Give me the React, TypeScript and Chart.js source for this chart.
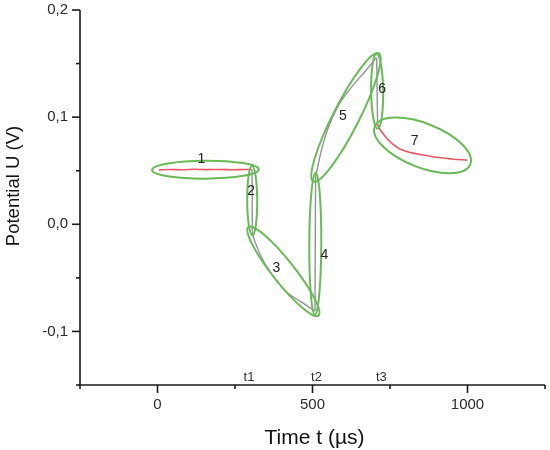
import React, { useEffect, useRef } from "react";
import { Chart, registerables } from "chart.js";

Chart.register(...registerables);

// ---- data (time in µs, potential in V) ----
const seg1Time = [5, 40, 80, 120, 160, 200, 240, 280, 304];
const seg1U = [0.0508, 0.0512, 0.0509, 0.0513, 0.051, 0.0512, 0.0509, 0.0511, 0.0512];
const seg2Time = [305, 306];
const seg2U = [0.0512, -0.007];
const seg3Time = [305, 313, 335, 377, 419, 465, 507];
const seg3U = [-0.007, -0.015, -0.0305, -0.05, -0.064, -0.0726, -0.081];
const seg4Time = [508, 510];
const seg4U = [-0.081, 0.0442];
const seg5Time = [510, 529, 548, 581, 626, 668, 700, 706];
const seg5U = [0.0442, 0.0694, 0.088, 0.1096, 0.128, 0.1422, 0.1534, 0.1555];
const seg6Time = [707, 710];
const seg6U = [0.1555, 0.093];
const seg7Time = [710, 718, 728, 740, 758, 780, 813, 850, 900, 950, 1000];
const seg7U = [0.093, 0.0885, 0.0845, 0.08, 0.075, 0.0705, 0.0672, 0.065, 0.0625, 0.061, 0.0598];

const segmentNames = ["1", "2", "3", "4", "5", "6", "7"];
const eventNames = ["t1", "t2", "t3"];
const eventTimes = [295, 513, 722];

const xMin = -250, xMax = 1250, xStep = 250;
const yMin = -0.15, yMax = 0.2, yStep = 0.05;
const xTitle = "Time t (µs)";
const yTitle = "Potential U (V)";

// ---- styles ----
const RED = "rgba(226,70,82,0.9)";
const GREY = "rgba(140,138,150,0.95)";
const GREEN = "rgb(104,186,84)";
const FONT = "'Liberation Sans', Arial, sans-serif";
const ellipsePad = [7, 3.5, 6, 4, 5, 4, 3];
const ellipseMinor = [9, 5, 11, 6, 13, 6, 22];
const ellipseShift = [[0, 0], [0, 0], [0, 0], [0, 0], [0, 0], [0, 0], [0, 3]];
const labelOffset = [[-4, -11], [-1, -9], [-7, -3], [9, 11], [-3, -1], [5, -2], [-8, -4]];

const segTimes = [seg1Time, seg2Time, seg3Time, seg4Time, seg5Time, seg6Time, seg7Time];
const segU = [seg1U, seg2U, seg3U, seg4U, seg5U, seg6U, seg7U];
const segColors = [RED, GREY, GREY, GREY, GREY, GREY, RED];

const overlayPlugin = {
  id: "overlay",
  afterDatasetsDraw(chart: any) {
    const ctx = chart.ctx;
    const xs = chart.scales.x;
    const ys = chart.scales.y;
    ctx.save();
    segTimes.forEach((ts, i) => {
      const us = segU[i];
      const x0 = xs.getPixelForValue(ts[0]);
      const y0 = ys.getPixelForValue(us[0]);
      const x1 = xs.getPixelForValue(ts[ts.length - 1]);
      const y1 = ys.getPixelForValue(us[us.length - 1]);
      const cx = (x0 + x1) / 2 + ellipseShift[i][0];
      const cy = (y0 + y1) / 2 + ellipseShift[i][1];
      const half = Math.hypot(x1 - x0, y1 - y0) / 2;
      const ang = Math.atan2(y1 - y0, x1 - x0);
      ctx.beginPath();
      ctx.ellipse(cx, cy, half + ellipsePad[i], ellipseMinor[i], ang, 0, Math.PI * 2);
      ctx.strokeStyle = GREEN;
      ctx.lineWidth = 2;
      ctx.stroke();
      ctx.fillStyle = "#222";
      ctx.font = `14px ${FONT}`;
      ctx.textAlign = "center";
      ctx.textBaseline = "middle";
      ctx.fillText(segmentNames[i], cx + labelOffset[i][0], cy + labelOffset[i][1]);
    });
    ctx.restore();
  },
  afterDraw(chart: any) {
    const ctx = chart.ctx;
    const xs = chart.scales.x;
    const ys = chart.scales.y;
    const area = chart.chartArea;
    ctx.save();
    ctx.strokeStyle = "#1a1a1a";
    ctx.lineWidth = 1.6;
    ctx.beginPath();
    ctx.moveTo(area.left, area.top);
    ctx.lineTo(area.left, area.bottom);
    ctx.lineTo(area.right, area.bottom);
    ctx.stroke();
    ys.ticks.forEach((t: any) => {
      const y = ys.getPixelForValue(t.value);
      const major = Math.abs(Math.round(t.value * 100)) % 10 === 0;
      ctx.beginPath();
      ctx.moveTo(area.left - (major ? 8 : 4), y);
      ctx.lineTo(area.left, y);
      ctx.stroke();
    });
    xs.ticks.forEach((t: any) => {
      const x = xs.getPixelForValue(t.value);
      const major = Math.round(t.value) % 500 === 0;
      ctx.beginPath();
      ctx.moveTo(x, area.bottom);
      ctx.lineTo(x, area.bottom + (major ? 8 : 4));
      ctx.stroke();
    });
    ctx.fillStyle = "#333";
    ctx.font = `13px ${FONT}`;
    ctx.textAlign = "center";
    ctx.textBaseline = "middle";
    eventTimes.forEach((t, i) => {
      ctx.fillText(eventNames[i], xs.getPixelForValue(t), area.bottom - 8);
    });
    ctx.fillStyle = "#111";
    ctx.font = `21px ${FONT}`;
    ctx.fillText(xTitle, (area.left + area.right) / 2 + 2, 438);
    ctx.save();
    ctx.translate(14, 186);
    ctx.rotate(-Math.PI / 2);
    ctx.font = `18.5px ${FONT}`;
    ctx.fillText(yTitle, 0, 0);
    ctx.restore();
    ctx.restore();
  },
};

export default function App() {
  const ref = useRef<HTMLCanvasElement>(null);
  useEffect(() => {
    if (!ref.current) return;
    const datasets = segTimes.map((ts, i) => ({
      label: "segment " + segmentNames[i],
      data: ts.map((t, k) => ({ x: t, y: segU[i][k] })),
      borderColor: segColors[i],
      borderWidth: segColors[i] === RED ? 1.6 : 1.4,
      pointRadius: 0,
      cubicInterpolationMode: "monotone" as const,
      fill: false,
    }));
    const chart = new Chart(ref.current, {
      type: "line",
      data: { datasets },
      plugins: [overlayPlugin],
      options: {
        animation: false,
        responsive: false,
        devicePixelRatio: 1,
        layout: { padding: { top: 10, right: 5, left: 0, bottom: 0 } },
        plugins: { legend: { display: false }, tooltip: { enabled: false } },
        scales: {
          x: {
            type: "linear",
            min: xMin,
            max: xMax,
            afterFit: (s: any) => {
              s.height = 65;
              s.paddingLeft = 0;
              s.paddingRight = 0;
            },
            grid: { display: false, drawTicks: false },
            border: { display: false },
            ticks: {
              stepSize: xStep,
              autoSkip: false,
              maxRotation: 0,
              padding: 11,
              color: "#2a2a2a",
              font: { family: FONT, size: 15 },
              callback: (v: any) => (Math.round(v) % 500 === 0 ? String(Math.round(v)) : ""),
            },
          },
          y: {
            type: "linear",
            min: yMin,
            max: yMax,
            afterFit: (s: any) => {
              s.width = 80;
              s.paddingTop = 0;
              s.paddingBottom = 0;
            },
            grid: { display: false, drawTicks: false },
            border: { display: false },
            ticks: {
              stepSize: yStep,
              autoSkip: false,
              padding: 12,
              color: "#2a2a2a",
              font: { family: FONT, size: 15 },
              callback: (v: any) =>
                Math.abs(Math.round(v * 100)) % 10 === 0
                  ? (Math.round(v * 10) / 10).toFixed(1).replace(".", ",")
                  : "",
            },
          },
        },
      },
    });
    return () => chart.destroy();
  }, []);
  return (
    <div style={{ position: "fixed", left: 0, top: 0, width: 550, height: 450, background: "#fff" }}>
      <canvas ref={ref} width={550} height={450} style={{ width: 550, height: 450 }} />
    </div>
  );
}
